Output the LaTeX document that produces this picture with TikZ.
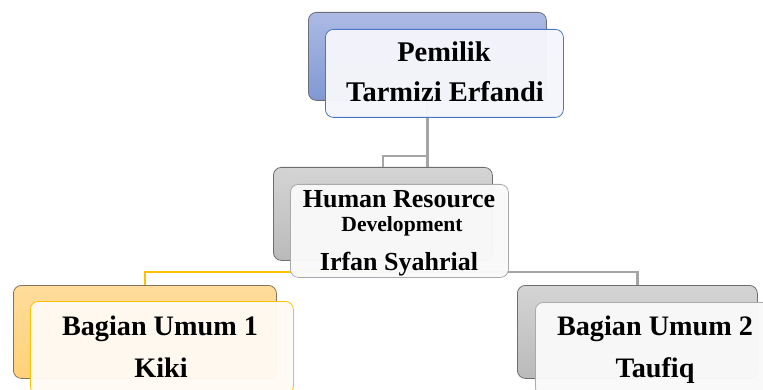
\documentclass[tikz,border=0pt]{standalone}
\usepackage{fontspec}
\setmainfont{Liberation Serif}
\usetikzlibrary{calc}
\begin{document}
\begin{tikzpicture}[x=1pt,y=-1pt,
  box/.style={rounded corners=8pt, anchor=north west, inner sep=0pt, line width=0.8pt},
  backblue/.style={box, draw={rgb,255:red,110;green,110;blue,120}, top color={rgb,255:red,172;green,186;blue,228}, bottom color={rgb,255:red,128;green,152;blue,211}},
  backgray/.style={box, draw={rgb,255:red,110;green,110;blue,110}, top color={rgb,255:red,212;green,212;blue,212}, bottom color={rgb,255:red,186;green,186;blue,186}},
  backorange/.style={box, draw={rgb,255:red,130;green,115;blue,90}, top color={rgb,255:red,255;green,220;blue,155}, bottom color={rgb,255:red,255;green,210;blue,122}},
  frontblue/.style={box, draw={rgb,255:red,72;green,118;blue,200}, fill={rgb,255:red,245;green,246;blue,251}, fill opacity=0.97},
  frontgray/.style={box, draw={rgb,255:red,170;green,170;blue,170}, fill={rgb,255:red,249;green,249;blue,249}, fill opacity=0.97},
  frontorange/.style={box, draw={rgb,255:red,255;green,192;blue,0}, fill={rgb,255:red,255;green,250;blue,243}, fill opacity=0.97},
  conngray/.style={draw={rgb,255:red,165;green,165;blue,165}, line width=2.2pt},
  connorange/.style={draw={rgb,255:red,255;green,192;blue,0}, line width=2.2pt},
  txt/.style={anchor=base, inner sep=0pt, font=\bfseries}
]
\useasboundingbox (0,0) rectangle (763,390);
\clip (0,0) rectangle (763,390);
% back boxes
\node[backblue, minimum width=238pt, minimum height=88pt] (tb) at (308,12) {};
\node[backgray, minimum width=219pt, minimum height=93pt] (hb) at (273,167) {};
\node[backorange, minimum width=263pt, minimum height=93pt] (lb) at (13,285) {};
\node[backgray, minimum width=240pt, minimum height=93pt] (rb) at (517,285) {};
% connectors
\coordinate (tj) at ($(tb.south)+(0,55)$);
\draw[conngray] (tb.south) -- (tb.south |- hb.north);
\draw[conngray] (tb.south) |- (tj) -| (hb.north);
\coordinate (hj) at ($(hb.south)+(0,11)$);
\draw[connorange] (hb.south) |- (hj) -| (lb.north);
\draw[conngray] (hb.south) |- (hj) -| (rb.north);
% front boxes
\node[frontblue, minimum width=238pt, minimum height=88pt] (tf) at (325,29) {};
\node[frontgray, minimum width=218pt, minimum height=93pt] (hf) at (290,184) {};
\node[frontorange, minimum width=263pt, minimum height=93pt] (lf) at (30,301) {};
\node[frontgray, minimum width=240pt, minimum height=93pt] (rf) at (535,302) {};
% texts
\node[txt, font=\bfseries\fontsize{28.5}{30}\selectfont] (t1) at (444,62) {Pemilik};
\node[txt, font=\bfseries\fontsize{28.5}{30}\selectfont] (t2) at (445,102) {Tarmizi Erfandi};
\node[txt, font=\bfseries\fontsize{26}{28}\selectfont] (h1) at (399,208) {Human Resource};
\node[txt, font=\bfseries\fontsize{21.6}{24}\selectfont] (h2) at (402,232) {Development};
\node[txt, font=\bfseries\fontsize{26}{29}\selectfont] (h3) at (399,270) {Irfan Syahrial};
\node[txt, font=\bfseries\fontsize{28.2}{30}\selectfont] (l1) at (160,335) {Bagian Umum 1};
\node[txt, font=\bfseries\fontsize{28.2}{30}\selectfont] (l2) at (161,377) {Kiki};
\node[txt, font=\bfseries\fontsize{28.2}{30}\selectfont] (r1) at (655,335) {Bagian Umum 2};
\node[txt, font=\bfseries\fontsize{28.2}{30}\selectfont] (r2) at (655,377) {Taufiq};
\end{tikzpicture}
\end{document}
